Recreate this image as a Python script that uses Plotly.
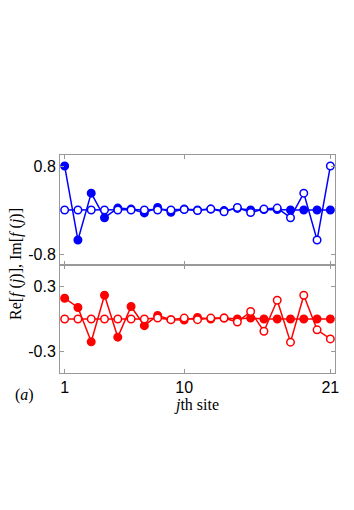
import plotly.graph_objects as go
from plotly.subplots import make_subplots

sites = list(range(1, 22))

# top panel (blue)
blue_filled = [0.80, -0.545, 0.307, -0.139, 0.035, 0.017, -0.052, 0.046, -0.040, 0.017, 0.0,
               0.017, -0.010, 0.030, 0.0, 0.010, 0.010, 0.0, 0.0, 0.0, 0.0]
blue_open = [0.0, 0.0, 0.0, 0.0, 0.0, 0.0, 0.0, 0.0, 0.0, 0.010, -0.010,
             0.017, -0.030, 0.046, -0.046, 0.017, 0.035, -0.139, 0.307, -0.545, 0.80]

# bottom panel (red)
red_filled = [0.193, 0.107, -0.211, 0.220, -0.168, 0.116, -0.061, 0.034, -0.006, -0.009, 0.015,
              0.0, 0.009, 0.0, 0.009, 0.0, 0.0, 0.0, 0.0, 0.0, 0.0]
red_open = [0.0, 0.0, 0.0, 0.0, 0.0, 0.0, 0.0, 0.009, -0.006, 0.009, -0.006,
            0.009, 0.009, -0.028, 0.070, -0.113, 0.174, -0.214, 0.220, -0.100, -0.184]

BLUE = '#0000ff'
RED = '#ff0000'

fig = make_subplots(rows=2, cols=1, shared_xaxes=True, vertical_spacing=0,
                    row_heights=[0.505, 0.495])


def add_series(y, color, filled, row):
    fig.add_trace(go.Scatter(
        x=sites, y=y, mode='lines+markers',
        line=dict(color=color, width=1.5),
        marker=dict(size=7.5, color=color if filled else 'white',
                    line=dict(color=color, width=1.5)),
        showlegend=False), row=row, col=1)


add_series(blue_filled, BLUE, True, 1)
add_series(blue_open, BLUE, False, 1)
add_series(red_filled, RED, True, 2)
add_series(red_open, RED, False, 2)

axis_style = dict(showline=True, mirror='ticks', linecolor='#999999', linewidth=1,
                  ticks='inside', ticklen=4, tickcolor='#999999', showgrid=False,
                  zeroline=False, tickfont=dict(family='Liberation Sans, Arial', size=16, color='black'))

fig.update_xaxes(range=[0.65, 21.35], tickvals=[1, 10, 21], **axis_style)
fig.update_xaxes(showticklabels=False, row=1, col=1)
fig.update_xaxes(title=dict(text='<i>j</i>th site', standoff=0,
                            font=dict(family='Liberation Serif, Times New Roman', size=16, color='black')),
                 row=2, col=1)
fig.update_yaxes(range=[-1.0, 1.0], tickvals=[-0.8, 0.8], ticktext=['-0.8', '0.8'],
                 row=1, col=1, **axis_style)
fig.update_yaxes(range=[-0.5, 0.5], tickvals=[-0.3, 0.3], ticktext=['-0.3', '0.3'],
                 row=2, col=1, **axis_style)

fig.add_annotation(
    text='Re[<i>f</i> (<i>j</i>)], Im[<i>f</i> (<i>j</i>)]',
    xref='paper', yref='paper', x=-0.16, y=0.5, textangle=-90,
    showarrow=False, xanchor='center', yanchor='middle',
    font=dict(family='Liberation Serif, Times New Roman', size=16, color='black'))
fig.add_annotation(
    text='(<i>a</i>)', xref='paper', yref='paper', x=-0.13, y=-0.1,
    showarrow=False, xanchor='center', yanchor='middle',
    font=dict(family='Liberation Serif, Times New Roman', size=16, color='black'))

fig.update_layout(width=354, height=510, plot_bgcolor='white', paper_bgcolor='white',
                  margin=dict(l=52, r=27, t=147, b=145))

fig.write_html('out.html')
